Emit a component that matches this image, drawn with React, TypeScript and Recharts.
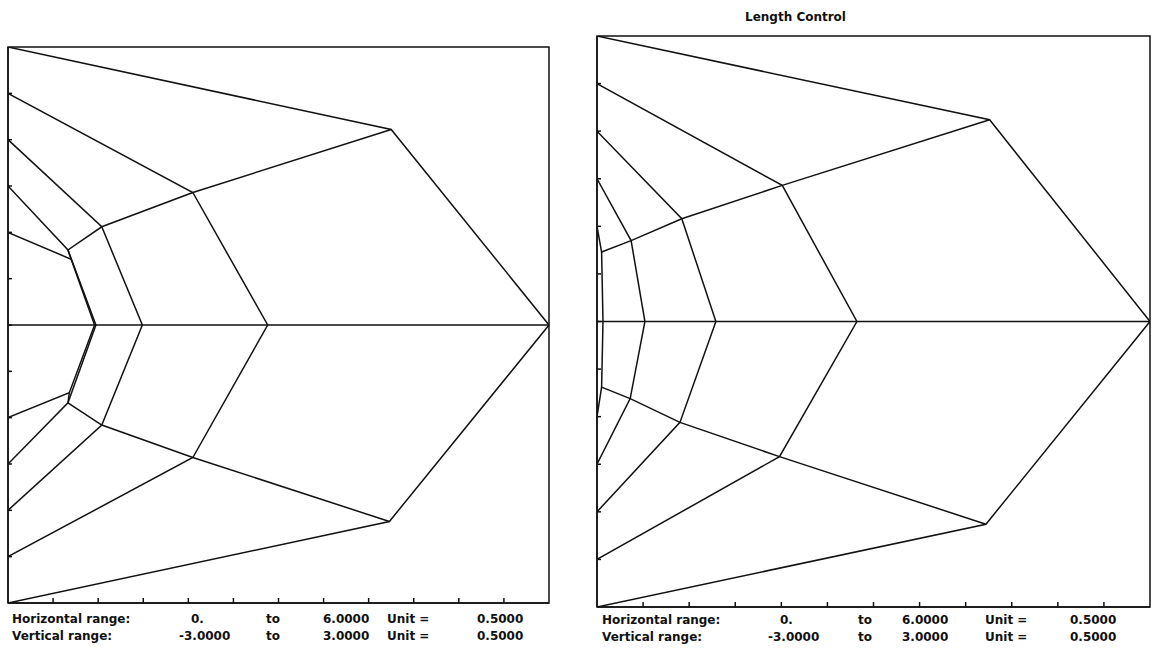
import React from 'react';
import {
  ComposedChart,
  Line,
  XAxis,
  YAxis,
  ReferenceArea,
  ReferenceLine,
} from 'recharts';

// left mesh (x, y)
const leftRing0 = [[0, 1.0], [0.7, 0.71], [0.96, 0], [0.68, -0.73], [0, -1.0]];
const leftRing1 = [[0, 1.5], [0.665, 0.81], [0.975, 0], [0.665, -0.84], [0, -1.5]];
const leftRing2 = [[0, 2.0], [1.04, 1.06], [1.49, 0], [1.04, -1.08], [0, -2.0]];
const leftRing3 = [[0, 2.5], [2.05, 1.43], [2.88, 0], [2.05, -1.43], [0, -2.5]];
const leftRing4 = [[0, 3.0], [4.25, 2.11], [6, 0], [4.23, -2.12], [0, -3.0]];
const leftRadialUp = [[0.7, 0.71], [0.665, 0.81], [1.04, 1.06], [2.05, 1.43], [4.25, 2.11]];
const leftRadialDown = [[0.68, -0.73], [0.665, -0.84], [1.04, -1.08], [2.05, -1.43], [4.23, -2.12]];

// right mesh, "Length Control"
const rightRing0 = [[0, 1.0], [0.05, 0.73], [0.065, 0], [0.05, -0.69], [0, -1.0]];
const rightRing1 = [[0, 1.5], [0.37, 0.85], [0.52, 0], [0.36, -0.81], [0, -1.5]];
const rightRing2 = [[0, 2.0], [0.92, 1.08], [1.29, 0], [0.9, -1.06], [0, -2.0]];
const rightRing3 = [[0, 2.5], [2.01, 1.43], [2.82, 0], [1.98, -1.42], [0, -2.5]];
const rightRing4 = [[0, 3.0], [4.26, 2.12], [6, 0], [4.22, -2.13], [0, -3.0]];
const rightRadialUp = [[0.05, 0.73], [0.37, 0.85], [0.92, 1.08], [2.01, 1.43], [4.26, 2.12]];
const rightRadialDown = [[0.05, -0.69], [0.36, -0.81], [0.9, -1.06], [1.98, -1.42], [4.22, -2.13]];

const xTicks = [0.5, 1, 1.5, 2, 2.5, 3, 3.5, 4, 4.5, 5, 5.5];
const yTicks = [-2.5, -2, -1.5, -1, -0.5, 0, 0.5, 1, 1.5, 2, 2.5];

const rangeNames = ['Horizontal range:', 'Vertical range:'];
const rangeFrom = ['0.', '-3.0000'];
const rangeTo = ['6.0000', '3.0000'];
const unitValues = ['0.5000', '0.5000'];

const leftLines = [leftRing0, leftRing1, leftRing2, leftRing3, leftRing4, leftRadialUp, leftRadialDown];
const rightLines = [rightRing0, rightRing1, rightRing2, rightRing3, rightRing4, rightRadialUp, rightRadialDown];

const ink = '#111';
const font = '"DejaVu Sans", sans-serif';

// tick marks only, no labels
const NoLabel = () => <g />;

interface MeshProps {
  lines: number[][][];
  left: number;
  width: number;
  margin: { top: number; right: number; bottom: number; left: number };
}

const MeshPlot: React.FC<MeshProps> = ({ lines, left, width, margin }) => (
  <div style={{ position: 'absolute', left, top: 0 }}>
    <ComposedChart width={width} height={651} margin={margin}>
      <XAxis
        type="number"
        dataKey="x"
        domain={[0, 6]}
        ticks={xTicks}
        allowDataOverflow
        mirror
        tick={NoLabel}
        tickSize={5}
        axisLine={{ stroke: ink, strokeWidth: 1.5 }}
        tickLine={{ stroke: ink, strokeWidth: 1.5 }}
      />
      <YAxis
        type="number"
        domain={[-3, 3]}
        ticks={yTicks}
        allowDataOverflow
        mirror
        tick={NoLabel}
        tickSize={4}
        axisLine={{ stroke: ink, strokeWidth: 1.5 }}
        tickLine={{ stroke: ink, strokeWidth: 1.5 }}
      />
      <ReferenceArea x1={0} x2={6} y1={-3} y2={3} fill="none" stroke={ink} strokeWidth={1.5} ifOverflow="visible" />
      <ReferenceLine y={0} stroke={ink} strokeWidth={1.5} />
      {lines.map((l, i) => (
        <Line
          key={i}
          data={l.map(([x, y]) => ({ x, y }))}
          dataKey="y"
          type="linear"
          stroke={ink}
          strokeWidth={1.5}
          dot={false}
          activeDot={false}
          isAnimationActive={false}
        />
      ))}
    </ComposedChart>
  </div>
);

const textStyle: React.CSSProperties = {
  position: 'absolute',
  fontFamily: font,
  fontWeight: 'bold',
  fontSize: 12,
  lineHeight: '14px',
  whiteSpace: 'nowrap',
  color: ink,
};

const RangeText: React.FC<{ xs: number[]; tops: number[] }> = ({ xs, tops }) => (
  <>
    {rangeNames.map((name, r) => (
      <React.Fragment key={r}>
        <span style={{ ...textStyle, left: xs[0], top: tops[r] }}>{name}</span>
        <span style={{ ...textStyle, left: r === 0 ? xs[1] : xs[2], top: tops[r] }}>{rangeFrom[r]}</span>
        <span style={{ ...textStyle, left: xs[3], top: tops[r] }}>to</span>
        <span style={{ ...textStyle, left: xs[4], top: tops[r] }}>{rangeTo[r]}</span>
        <span style={{ ...textStyle, left: xs[5], top: tops[r] }}>Unit =</span>
        <span style={{ ...textStyle, left: xs[6], top: tops[r] }}>{unitValues[r]}</span>
      </React.Fragment>
    ))}
  </>
);

export default function App() {
  return (
    <div style={{ position: 'absolute', left: 0, top: 0, width: 1153, height: 651, background: '#fff' }}>
      <MeshPlot lines={leftLines} left={0} width={560} margin={{ top: 47, right: 11, bottom: 48, left: 8 }} />
      <MeshPlot lines={rightLines} left={560} width={593} margin={{ top: 36, right: 3, bottom: 44, left: 37 }} />
      <span style={{ ...textStyle, left: 745, top: 10, fontSize: 12 }}>Length Control</span>
      <RangeText xs={[12, 191, 179, 266, 323, 387, 477]} tops={[612, 629]} />
      <RangeText xs={[602, 780, 768, 858, 902, 985, 1070]} tops={[613, 630]} />
    </div>
  );
}
